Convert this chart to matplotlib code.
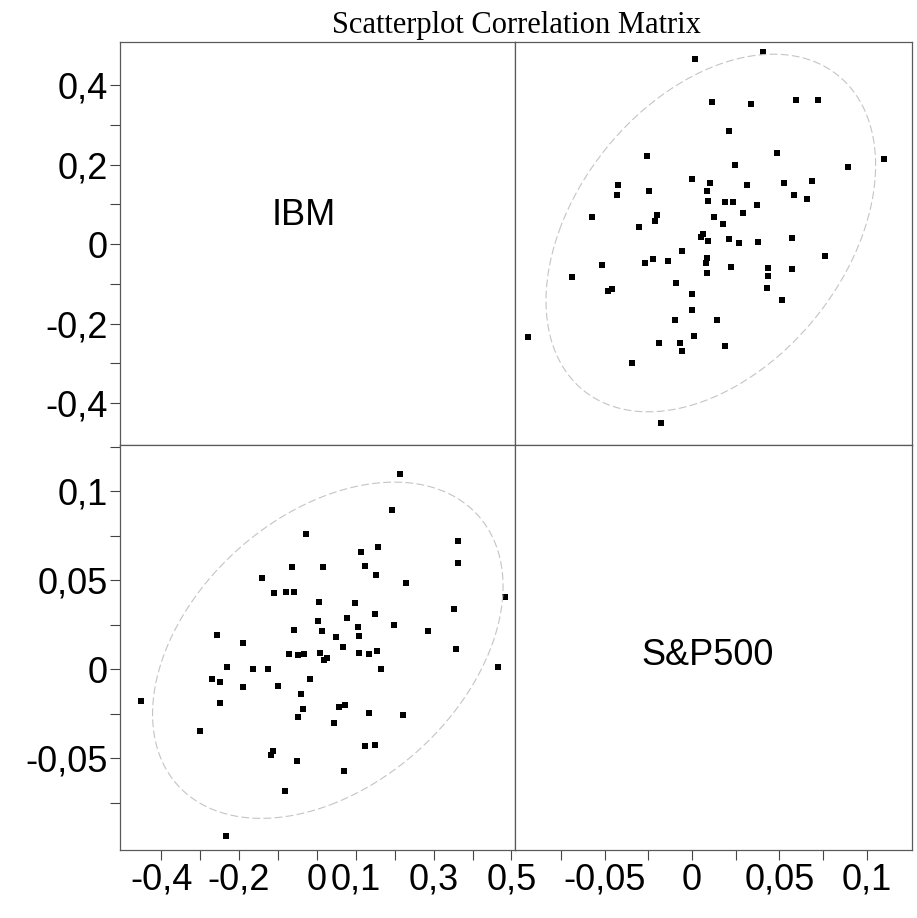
#!/usr/bin/env python3
"""Scatterplot correlation matrix of IBM vs S&P500 monthly returns (JMP style)."""

import matplotlib
matplotlib.use("Agg")
import matplotlib.pyplot as plt
import numpy as np
from matplotlib.ticker import FixedLocator, FixedFormatter

# monthly returns
IBM = [0.466, 0.484, 0.358, 0.353, 0.363, 0.362, 0.286, 0.221, 0.229, 0.199,
       0.194, 0.214, 0.165, 0.154, 0.149, 0.153, 0.158, 0.149, 0.124, 0.134,
       0.134, 0.108, 0.107, 0.105, 0.098, 0.123, 0.113, 0.069, 0.073, 0.057,
       0.044, 0.068, 0.050, 0.078, 0.025, 0.017, 0.007, 0.012, 0.003, 0.006,
       0.016, -0.018, -0.052, -0.082, -0.048, -0.037, -0.042, -0.034, -0.048, -0.073,
       -0.058, -0.059, -0.080, -0.110, -0.063, -0.029, -0.141, -0.117, -0.113, -0.099,
       -0.125, -0.165, -0.190, -0.190, -0.234, -0.231, -0.250, -0.250, -0.270, -0.256,
       -0.300, -0.451]
SP500 = [0.0015, 0.0407, 0.0112, 0.0338, 0.0595, 0.0719, 0.0213, -0.0257, 0.0484, 0.0248,
         0.0895, 0.1098, 0.0000, 0.0101, 0.0313, 0.0527, 0.0685, -0.0423, -0.0433, -0.0245,
         0.0085, 0.0090, 0.0189, 0.0235, 0.0370, 0.0582, 0.0660, -0.0571, -0.0203, -0.0214,
         -0.0302, 0.0123, 0.0179, 0.0291, 0.0064, 0.0050, 0.0090, 0.0213, 0.0269, 0.0380,
         0.0573, -0.0056, -0.0514, -0.0686, -0.0269, -0.0224, -0.0136, 0.0087, 0.0078, 0.0087,
         0.0223, 0.0437, 0.0436, 0.0427, 0.0572, 0.0761, 0.0514, -0.0482, -0.0458, -0.0091,
         0.0001, -0.0001, -0.0100, 0.0145, -0.0938, 0.0011, -0.0191, -0.0070, -0.0057, 0.0190,
         -0.0347, -0.0180]

IBM_LIM = (-0.506, 0.509)
SP_LIM = (-0.1015, 0.126)

IBM_TICKS = [-0.4, -0.3, -0.2, -0.1, 0.0, 0.1, 0.2, 0.3, 0.4]
IBM_YLABELS = ["-0,4", "", "-0,2", "", "0", "", "0,2", "", "0,4"]
IBM_XTICKS = [-0.4, -0.3, -0.2, -0.1, 0.0, 0.1, 0.2, 0.3, 0.4, 0.5]
IBM_XLABELS = ["-0,4", "", "-0,2", "", "0", "0,1", "", "0,3", "", "0,5"]
SP_TICKS = [-0.075, -0.05, -0.025, 0.0, 0.025, 0.05, 0.075, 0.1, 0.125]
SP_LABELS = ["", "-0,05", "", "0", "", "0,05", "", "0,1", ""]

NAMES = ["IBM", "S&P500"]
TITLE = "Scatterplot Correlation Matrix"

W, H = 917, 918
LEFT, MIDX, RIGHT = 120, 515, 912
TOP, MIDY, BOTTOM = 42, 445, 850
FRAME = "#5a5a5a"
SANS = ["Liberation Sans", "DejaVu Sans"]


def box(x0, x1, y0, y1):
    return [x0 / W, 1 - y1 / H, (x1 - x0) / W, (y1 - y0) / H]


def style(ax):
    for sp in ax.spines.values():
        sp.set_color(FRAME)
        sp.set_linewidth(0.9)
    ax.tick_params(direction="out", length=7, width=0.8, color="#444444",
                   labelsize=26, pad=2)
    ax.set_xticks([])
    ax.set_yticks([])


def ellipse(x, y, level=2.4477):
    # 95% bivariate normal density ellipse
    x = np.asarray(x)
    y = np.asarray(y)
    w, v = np.linalg.eigh(np.cov(x, y))
    t = np.linspace(0, 2 * np.pi, 300)
    pts = v @ (np.vstack([np.cos(t), np.sin(t)]) * np.sqrt(w)[:, None] * level)
    return pts[0] + x.mean(), pts[1] + y.mean()


def set_ticks(axis, ticks, labels):
    axis.set_major_locator(FixedLocator(ticks))
    axis.set_major_formatter(FixedFormatter(labels))
    for lab in axis.get_ticklabels():
        lab.set_family(SANS)
        lab.set_fontsize(26)


def main():
    fig = plt.figure(figsize=(W / 100, H / 100), dpi=100)
    ax_tl = fig.add_axes(box(LEFT, MIDX, TOP, MIDY))
    ax_tr = fig.add_axes(box(MIDX, RIGHT, TOP, MIDY))
    ax_bl = fig.add_axes(box(LEFT, MIDX, MIDY, BOTTOM))
    ax_br = fig.add_axes(box(MIDX, RIGHT, MIDY, BOTTOM))
    for ax in (ax_tl, ax_tr, ax_bl, ax_br):
        style(ax)

    # diagonal cells: variable names
    ax_tl.set_xlim(IBM_LIM)
    ax_tl.set_ylim(IBM_LIM)
    ax_tl.text(0.466, 0.57, NAMES[0], transform=ax_tl.transAxes, ha="center",
               va="center", fontsize=26, family=SANS)
    set_ticks(ax_tl.yaxis, IBM_TICKS, IBM_YLABELS)

    ax_br.set_xlim(SP_LIM)
    ax_br.set_ylim(SP_LIM)
    ax_br.text(0.486, 0.48, NAMES[1], transform=ax_br.transAxes, ha="center",
               va="center", fontsize=26, family=SANS)
    set_ticks(ax_br.xaxis, SP_TICKS[:-1], SP_LABELS[:-1])

    # off-diagonal scatter cells with faint density ellipses
    ex, ey = ellipse(SP500, IBM)
    ax_tr.plot(ex, ey, color="#c4c4c4", lw=0.8, ls=(0, (7, 3)))
    ax_tr.scatter(SP500, IBM, marker="s", s=18, color="black", linewidths=0)
    ax_tr.set_xlim(SP_LIM)
    ax_tr.set_ylim(IBM_LIM)

    ax_bl.plot(ey, ex, color="#c4c4c4", lw=0.8, ls=(0, (7, 3)))
    ax_bl.scatter(IBM, SP500, marker="s", s=18, color="black", linewidths=0)
    ax_bl.set_xlim(IBM_LIM)
    ax_bl.set_ylim(SP_LIM)
    set_ticks(ax_bl.xaxis, IBM_XTICKS, IBM_XLABELS)
    set_ticks(ax_bl.yaxis, SP_TICKS, SP_LABELS)

    fig.text((LEFT + RIGHT) / 2 / W, 1 - 33 / H, TITLE, ha="center", va="baseline",
             fontsize=22, family=["Liberation Serif", "DejaVu Serif"])

    fig.savefig("out.png", dpi=100)


if __name__ == "__main__":
    main()
